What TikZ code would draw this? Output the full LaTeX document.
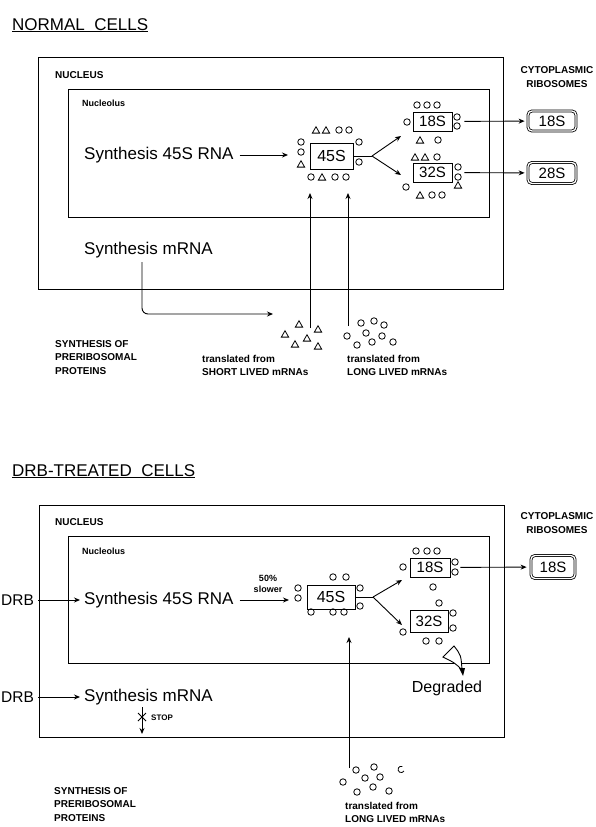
\documentclass[tikz,border=0pt]{standalone}
\usepackage{fontspec}
\setmainfont{Liberation Sans}
\usetikzlibrary{positioning, arrows.meta, shapes.geometric}

\tikzset{
  lbl/.style={inner sep=0pt},
  big/.style={lbl, font=\fontsize{17}{19}\selectfont},
  tag/.style={lbl, font=\fontsize{10}{13.5}\selectfont\bfseries, align=left},
  box/.style={draw, line width=0.9pt, inner sep=0pt},
  rna/.style={draw, line width=0.9pt, minimum width=39pt, minimum height=19pt, inner sep=0pt, font=\fontsize{15}{15}\selectfont},
  ribo/.style={draw, double, double distance=1.3pt, line width=0.8pt, rounded corners=4pt, inner sep=0pt, font=\fontsize{15}{15}\selectfont},
  prot/.style={circle, draw, line width=0.8pt, inner sep=0pt, minimum size=6.5pt},
  tri/.style={regular polygon, regular polygon sides=3, draw, line width=0.8pt, inner sep=0pt, minimum size=8.5pt},
  arr/.style={-{Stealth[length=6pt,width=5pt]}, line width=0.9pt},
  gap/.style={shorten <=4pt, shorten >=4pt}
}

\begin{document}
\begin{tikzpicture}[x=1pt, y=-1pt]
  \useasboundingbox (0,0) rectangle (596,827);

  % ---------- normal cells ----------
  \node[big, anchor=base west] (title1) at (12,30) {\underline{NORMAL\ \ CELLS}};
  \node[box, minimum width=465pt, minimum height=232pt, anchor=north west] (nuc1) at (38,57) {};
  \node[tag, anchor=west] (nuclab1) at (55,75) {NUCLEUS};
  \node[box, minimum width=421pt, minimum height=128pt, anchor=north west] (nol1) at (68,89) {};
  \node[tag, font=\fontsize{9}{9}\selectfont\bfseries, anchor=west] (nollab1) at (82,103) {Nucleolus};

  \node[big, anchor=west] (syn1) at (84,155) {Synthesis 45S RNA};
  \node[rna, minimum width=43pt, minimum height=26pt, font=\fontsize{16}{16}\selectfont] (r45a) at (331.5,156) {45S};
  \coordinate (in45a) at (288,155);
  \draw[arr, shorten <=6pt] (syn1) -- (in45a);

  \foreach \p [count=\i] in {(339,130),(349,130),(301,142),(301,152),(311,177),(335,177),(346,177),(359,142),(359,162)}
    \node[prot] (pa\i) at \p {};
  \foreach \p [count=\i] in {(316,131),(326,131),(301,165),(322,178)}
    \node[tri] (ta\i) at \p {};

  \coordinate (fork1) at (372,156);
  \coordinate (to18a) at (401,136);
  \coordinate (to32a) at (401,175);
  \draw[line width=0.9pt] (r45a) -- (fork1);
  \draw[arr] (fork1) -- (to18a);
  \draw[arr] (fork1) -- (to32a);

  \node[rna] (r18a) at (432.5,121.5) {18S};
  \node[rna] (r32a) at (432.5,172.5) {32S};
  \foreach \p [count=\i] in {(417,105),(427,105),(437,105),(407,122),(457,117),(457,126),(438,140),
                             (437,157),(406,187),(458,167),(458,177),(432,195),(442,195)}
    \node[prot] (pb\i) at \p {};
  \foreach \p [count=\i] in {(420,141),(415,158),(425,158),(458,186),(420,196)}
    \node[tri] (tb\i) at \p {};

  \node[tag, align=center] (cyto1) at (557,77) {CYTOPLASMIC\\RIBOSOMES};
  \node[ribo, minimum width=48pt, minimum height=20pt] (c18a) at (552,121) {18S};
  \node[ribo, minimum width=48pt, minimum height=21pt] (c28a) at (552,173) {28S};
  \draw[arr, shorten <=12pt, shorten >=3pt] (r18a) -- (c18a);
  \draw[arr, shorten <=12pt, shorten >=3pt] (r32a) -- (c28a);

  \node[big, anchor=west] (mrna1) at (84,250) {Synthesis mRNA};
  \coordinate (mstart) at (142,262);
  \coordinate (mend) at (273,314);
  \draw[arr, rounded corners=6pt] (mstart) |- (mend);

  \coordinate (short1) at (310,328);
  \coordinate (short2) at (310,193);
  \coordinate (long1) at (348,326);
  \coordinate (long2) at (348,193);
  \draw[arr] (short1) -- (short2);
  \draw[arr] (long1) -- (long2);

  \foreach \p [count=\i] in {(299,325),(318,330),(285,335),(307,339),(295,345),(318,347)}
    \node[tri] (tc\i) at \p {};
  \foreach \p [count=\i] in {(347,336),(361,323),(374,321),(384,325),(366,333),(382,336),(357,345),(372,342),(393,342)}
    \node[prot] (pc\i) at \p {};

  \node[tag, anchor=north west] (prot1) at (55,340) {SYNTHESIS OF\\PRERIBOSOMAL\\PROTEINS};
  \node[tag, anchor=north west] (shortlab) at (202,355) {translated from\\SHORT LIVED mRNAs};
  \node[tag, anchor=north west] (longlab1) at (347,355) {translated from\\LONG LIVED mRNAs};

  % ---------- DRB-treated cells ----------
  \node[big, anchor=base west] (title2) at (12,476) {\underline{DRB-TREATED\ \ CELLS}};
  \node[box, minimum width=465pt, minimum height=232pt, anchor=north west] (nuc2) at (39,505) {};
  \node[tag, anchor=west] (nuclab2) at (55,522) {NUCLEUS};
  \node[box, minimum width=421pt, minimum height=127pt, anchor=north west] (nol2) at (68,536) {};
  \node[tag, font=\fontsize{9}{9}\selectfont\bfseries, anchor=west] (nollab2) at (82,551) {Nucleolus};

  \node[big, font=\fontsize{15.5}{17}\selectfont, anchor=west] (drb1) at (1,600) {DRB};
  \node[big, anchor=west] (syn2) at (84,600) {Synthesis 45S RNA};
  \draw[arr, gap] (drb1) -- (syn2);
  \node[tag, font=\fontsize{9}{11}\selectfont\bfseries, align=center] (slow) at (268,584) {50\%\\slower};
  \node[rna, minimum width=48pt, minimum height=24pt, font=\fontsize{16}{16}\selectfont] (r45b) at (331,597) {45S};
  \coordinate (in45b) at (289,600);
  \draw[arr, shorten <=6pt] (syn2) -- (in45b);

  \foreach \p [count=\i] in {(298,588),(298,598),(333,577),(346,577),(360,588),(360,606),(311,612),(333,612),(344,612)}
    \node[prot] (pd\i) at \p {};

  \coordinate (fork2) at (373,597);
  \coordinate (to18b) at (402,580);
  \coordinate (to32b) at (402,625);
  \draw[line width=0.9pt] (r45b) -- (fork2);
  \draw[arr] (fork2) -- (to18b);
  \draw[arr] (fork2) -- (to32b);

  \node[rna, minimum width=40pt] (r18b) at (430,567.5) {18S};
  \node[rna, minimum width=38pt, minimum height=22pt] (r32b) at (429,621) {32S};
  \foreach \p [count=\i] in {(416,551),(427,551),(437,551),(403,567),(455,562),(455,572),(433,587),
                             (439,603),(453,613),(453,628),(403,632),(426,641),(439,641)}
    \node[prot] (pe\i) at \p {};

  % degraded 32S
  \draw[line width=0.9pt, fill=white] (443,657) -- (454,646) .. controls (461,655) .. (462,670)
    .. controls (455,663) .. cycle;
  \fill (459,668) -- (465,668) -- (463,676) -- cycle;
  \node[big, font=\fontsize{16}{16}\selectfont] (degr) at (447,688) {Degraded};

  \node[tag, align=center] (cyto2) at (557,523) {CYTOPLASMIC\\RIBOSOMES};
  \node[ribo, minimum width=44pt, minimum height=23pt] (c18b) at (553,567) {18S};
  \draw[arr, shorten <=10pt, shorten >=4pt] (r18b) -- (c18b);

  \node[big, font=\fontsize{15.5}{17}\selectfont, anchor=west] (drb2) at (1,697) {DRB};
  \node[big, anchor=west] (mrna2) at (84,697) {Synthesis mRNA};
  \draw[arr, gap] (drb2) -- (mrna2);
  \coordinate (stop1) at (142,707);
  \coordinate (stop2) at (142,734);
  \draw[arr] (stop1) -- (stop2);
  \draw[line width=0.9pt] (138,713) -- (146,721) (146,713) -- (138,721);
  \node[tag, font=\fontsize{8}{8}\selectfont\bfseries, anchor=west] (stoplab) at (151,718) {STOP};

  \coordinate (long3) at (349,768);
  \coordinate (long4) at (349,637);
  \draw[arr] (long3) -- (long4);
  \foreach \p [count=\i] in {(343,782),(356,770),(365,778),(374,767),(380,777),(373,787),(357,792),(389,791)}
    \node[prot] (pf\i) at \p {};
  \draw[line width=0.8pt] (404,771) arc (30:290:3.2);

  \node[tag, anchor=north west] (prot2) at (54,787) {SYNTHESIS OF\\PRERIBOSOMAL\\PROTEINS};
  \node[tag, anchor=north west] (longlab2) at (345,802) {translated from\\LONG LIVED mRNAs};
\end{tikzpicture}
\end{document}
